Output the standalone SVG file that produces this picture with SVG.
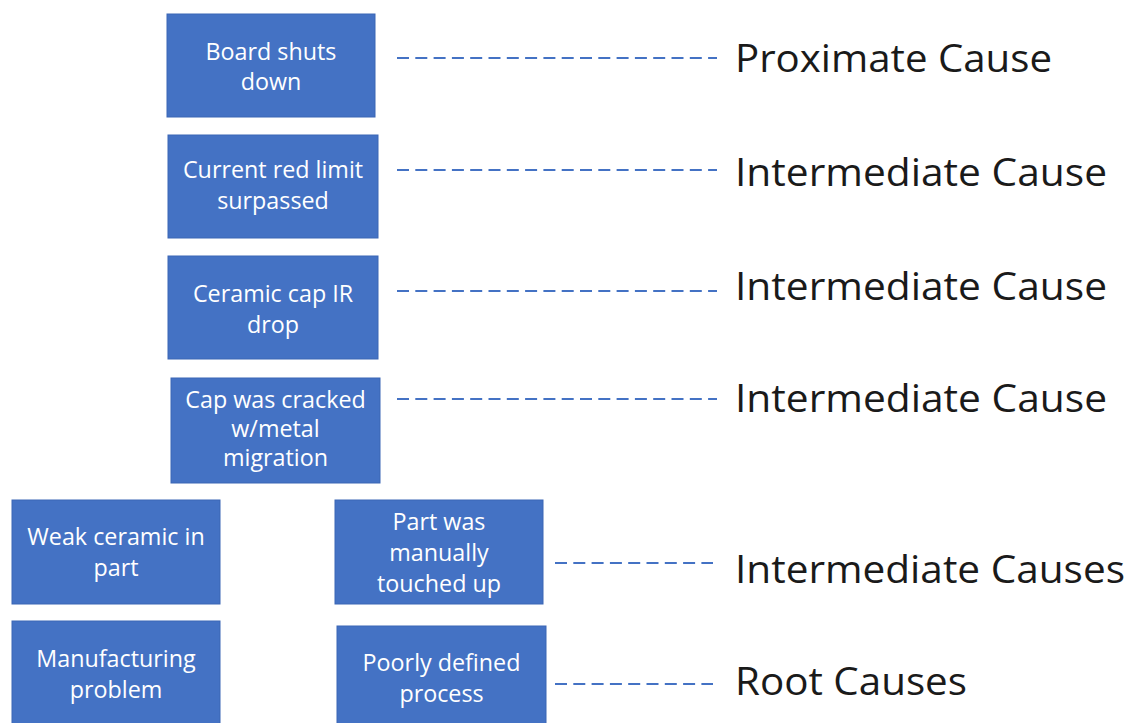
<svg xmlns="http://www.w3.org/2000/svg" width="1129" height="723" viewBox="0 0 1129 723">
<style>
.box{fill:#4472C4;stroke:#3B66B5;stroke-width:1}
.bt{font-family:"Open Sans","Liberation Sans",sans-serif;font-size:23.3px;fill:#FFFFFF;text-anchor:middle}
.lbl{font-family:"Open Sans","Liberation Sans",sans-serif;font-size:39px;fill:#1A1A1A}
.dash{stroke:#4472C4;stroke-width:2;stroke-dasharray:12 6.3;fill:none}
</style>
<rect width="1129" height="723" fill="#FFFFFF"/>
<g id="connectors">
<line class="dash" x1="397" y1="58" x2="717" y2="58"/>
<line class="dash" x1="397" y1="170" x2="717" y2="170"/>
<line class="dash" x1="397" y1="291" x2="717" y2="291"/>
<line class="dash" x1="397" y1="399" x2="717" y2="399"/>
<line class="dash" x1="555" y1="563" x2="713" y2="563"/>
<line class="dash" x1="555" y1="684" x2="713" y2="684"/>
</g>
<g id="n1"><rect class="box" x="167" y="14" width="208" height="103"/>
<text class="bt" x="271" y="60">Board shuts</text><text class="bt" x="271" y="90">down</text></g>
<g id="n2"><rect class="box" x="168" y="135" width="210" height="103"/>
<text class="bt" x="273" y="178">Current red limit</text><text class="bt" x="273" y="209">surpassed</text></g>
<g id="n3"><rect class="box" x="168" y="256" width="210" height="103"/>
<text class="bt" x="273" y="302">Ceramic cap IR</text><text class="bt" x="273" y="333">drop</text></g>
<g id="n4"><rect class="box" x="171" y="378" width="209" height="105"/>
<text class="bt" x="275.5" y="408">Cap was cracked</text><text class="bt" x="275.5" y="437">w/metal</text><text class="bt" x="275.5" y="466">migration</text></g>
<g id="n5"><rect class="box" x="12" y="500" width="208" height="104"/>
<text class="bt" x="116" y="545">Weak ceramic in</text><text class="bt" x="116" y="576">part</text></g>
<g id="n6"><rect class="box" x="335" y="500" width="208" height="104"/>
<text class="bt" x="439" y="530">Part was</text><text class="bt" x="439" y="561">manually</text><text class="bt" x="439" y="592">touched up</text></g>
<g id="n7"><rect class="box" x="12" y="621" width="208" height="104"/>
<text class="bt" x="116" y="667">Manufacturing</text><text class="bt" x="116" y="698">problem</text></g>
<g id="n8"><rect class="box" x="337" y="626" width="209" height="99"/>
<text class="bt" x="441.5" y="671">Poorly defined</text><text class="bt" x="441.5" y="702">process</text></g>
<g id="labels">
<text class="lbl" x="735" y="72" textLength="317" lengthAdjust="spacingAndGlyphs">Proximate Cause</text>
<text class="lbl" x="735" y="186" textLength="372" lengthAdjust="spacingAndGlyphs">Intermediate Cause</text>
<text class="lbl" x="735" y="300" textLength="372" lengthAdjust="spacingAndGlyphs">Intermediate Cause</text>
<text class="lbl" x="735" y="412" textLength="372" lengthAdjust="spacingAndGlyphs">Intermediate Cause</text>
<text class="lbl" x="735" y="583" textLength="390" lengthAdjust="spacingAndGlyphs">Intermediate Causes</text>
<text class="lbl" x="735" y="695" textLength="232" lengthAdjust="spacingAndGlyphs">Root Causes</text>
</g>
</svg>
